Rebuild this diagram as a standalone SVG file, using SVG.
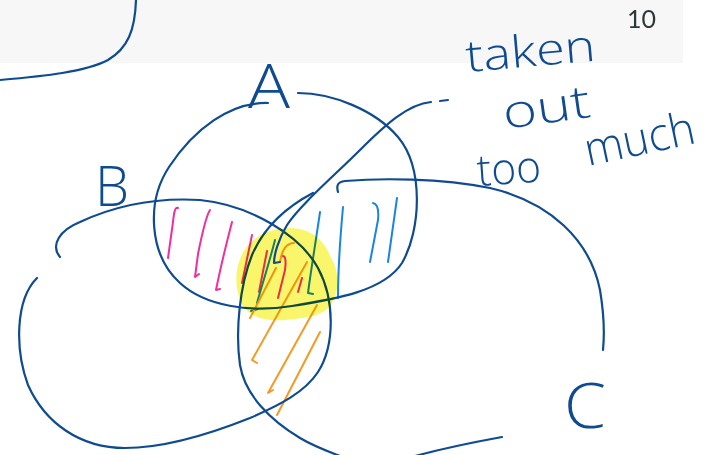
<svg xmlns="http://www.w3.org/2000/svg" width="704" height="455" viewBox="0 0 704 455">
  <style>
    .ink { fill: none; stroke: #0f4b90; stroke-width: 2.2; stroke-linecap: round; stroke-linejoin: round; }
    .pink { fill: none; stroke: #ef2f9f; stroke-width: 2; stroke-linecap: round; stroke-linejoin: round; }
    .blue { fill: none; stroke: #1a84e4; stroke-width: 2; stroke-linecap: round; stroke-linejoin: round; }
    .orange { fill: none; stroke: #f59a22; stroke-width: 2; stroke-linecap: round; stroke-linejoin: round; }
    .hand { fill: #0f4b90; font-family: "Open Sans", "Liberation Sans", sans-serif; font-weight: 300; }
    .pagenum { fill: #2f3838; font-family: Lato, "Liberation Sans", sans-serif; font-size: 25px; }
    .hl { fill: #f9f66c; mix-blend-mode: multiply; }
  </style>
  <rect x="0" y="0" width="704" height="455" fill="#ffffff"/>
  <g id="header">
    <rect x="0" y="0" width="683" height="63" fill="#f7f7f7"/>
    <text class="pagenum" x="627" y="28">10</text>
    <path class="ink" d="M 136,0 C 135,30 128,48 108,60 C 85,72 45,76 0,80"/>
  </g>
  <g id="shading">
    <path class="pink" d="M 178,208 C 175,207 174,212 173,222 L 168,258"/>
    <path class="pink" d="M 210,210 C 206,216 202,234 198,254 L 195,277 L 199,274"/>
    <path class="pink" d="M 232,222 C 226,245 220,270 216,290 L 220,289"/>
    <path class="pink" d="M 252,235 L 242,283"/>
    <path class="pink" d="M 267,251 L 259,292"/>
    <path class="pink" d="M 282,256 C 286,255 286,262 285,270 L 278,298"/>
    <path class="pink" d="M 302,278 L 298,292"/>
    <path class="blue" d="M 275,240 C 270,260 262,285 257,303"/>
    <path class="blue" d="M 251,311 L 258,309"/>
    <path class="blue" d="M 320,212 C 316,240 311,270 308,293 L 313,294"/>
    <path class="blue" d="M 343,207 C 340,240 338,270 338,298"/>
    <path class="blue" d="M 373,203 C 378,204 379,210 378,220 L 370,262"/>
    <path class="blue" d="M 397,198 L 388,262"/>
    <path class="orange" d="M 294,243 C 287,243 282,249 280,262"/>
    <path class="orange" d="M 276,268 L 250,318"/>
    <path class="orange" d="M 307,262 L 252,360 L 257,363"/>
    <path class="orange" d="M 317,305 L 268,393 L 273,390"/>
    <path class="orange" d="M 320,332 L 277,415"/>
  </g>
  <g id="circle-A">
    <path class="ink" d="M 298,93 C 332,93 375,110 398,137 C 424,168 421,230 402,263 C 384,291 336,299 292,306 C 250,313 205,306 180,283 C 149,255 146,202 169,167 C 194,129 230,102 268,103"/>
    <text class="hand" x="248" y="108" font-size="60" textLength="42" lengthAdjust="spacingAndGlyphs">A</text>
  </g>
  <g id="circle-B">
    <path class="ink" d="M 60,257 C 50,245 60,230 80,222 C 110,208 150,197 200,200 C 250,205 300,235 318,268 C 335,300 335,345 318,372 C 305,392 280,405 250,418 C 210,434 165,448 125,448 C 80,448 45,423 28,385 C 15,350 15,300 37,278"/>
    <text class="hand" x="95" y="206" font-size="56" textLength="34" lengthAdjust="spacingAndGlyphs">B</text>
  </g>
  <g id="circle-C">
    <path class="ink" d="M 338,192 C 336,185 338,182 345,181 C 380,178 440,178 490,188 C 550,202 590,240 600,290 C 605,320 604,340 603,350"/>
    <path class="ink" d="M 313,193 C 290,205 265,225 252,255 C 240,285 235,330 240,365 C 245,395 270,420 300,438 C 315,447 330,452 345,458"/>
    <path class="ink" d="M 502,437 C 480,441 445,448 415,456"/>
    <text class="hand" x="564" y="428" font-size="62" textLength="42" lengthAdjust="spacingAndGlyphs">C</text>
  </g>
  <g id="highlight">
    <path class="hl" d="M 290,228 C 310,228 325,240 331,258 C 339,270 340,290 331,305 C 321,318 300,318 285,320 C 265,322 245,316 240,300 C 233,280 236,258 250,243 C 262,232 275,228 290,228 Z"/>
  </g>
  <g id="connectors">
    <path class="ink" d="M 440,101 L 448,100"/>
    <path class="ink" d="M 431,102 C 408,104 385,125 360,150 C 335,175 300,205 287,225 C 278,240 274,255 274,263 L 280,262"/>
  </g>
  <g id="note">
    <text class="hand" x="467" y="72" font-size="44" textLength="130" lengthAdjust="spacingAndGlyphs" transform="rotate(-5 467 72)">taken</text>
    <text class="hand" x="505" y="129" font-size="46" textLength="88" lengthAdjust="spacingAndGlyphs" transform="rotate(-8 505 129)">out</text>
    <text class="hand" x="478" y="186" font-size="44" textLength="64" lengthAdjust="spacingAndGlyphs" transform="rotate(-4 478 186)">too</text>
    <text class="hand" x="588" y="166" font-size="46" textLength="112" lengthAdjust="spacingAndGlyphs" transform="rotate(-12 588 166)">much</text>
  </g>
</svg>
